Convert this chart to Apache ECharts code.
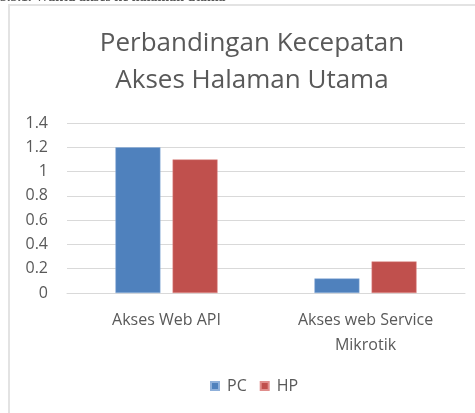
<!DOCTYPE html>
<html>
<head>
<meta charset="utf-8">
<script src="https://cdn.jsdelivr.net/npm/echarts@6/dist/echarts.min.js"></script>
<style>
  html, body { margin: 0; padding: 0; background: #fff; }
  #main { width: 475px; height: 413px; }
</style>
</head>
<body>
<div id="main"></div>
<script>
// data
var categories = ["Akses Web API", "Akses web Service\nMikrotik"];
var pcValues = [1.2, 0.12];
var hpValues = [1.1, 0.26];
var seriesNames = ["PC", "HP"];

var myChart = echarts.init(document.getElementById("main"));
var font = "'Open Sans', 'Noto Sans', sans-serif";
var option = {
  animation: false,
  backgroundColor: "#fff",
  textStyle: { fontFamily: font },
  title: {
    text: "Perbandingan Kecepatan\nAkses Halaman Utama",
    left: 247,
    top: 20,
    textAlign: "center",
    textStyle: {
      color: "#595959",
      fontSize: 26,
      fontWeight: "normal",
      lineHeight: 37,
      fontFamily: font
    }
  },
  graphic: [
    {
      // frame of the chart box
      type: "rect",
      shape: { x: 9, y: 5, width: 480, height: 420 },
      style: { fill: "none", stroke: "#e3e3e3", lineWidth: 2 }
    },
    {
      // heading of the document, cut at the top
      type: "text",
      x: 0,
      y: -10,
      style: { text: "3.3.1. Waktu akses ke halaman utama", fill: "#555", font: "bold 14px 'Liberation Serif', serif" }
    }
  ],
  legend: {
    data: seriesNames,
    bottom: 14,
    left: 205,
    itemWidth: 8,
    itemHeight: 8,
    itemGap: 13,
    icon: "rect",
    textStyle: { color: "#595959", fontSize: 16, fontFamily: font, padding: [0, 0, 0, 3] }
  },
  grid: { left: 67, right: 10, top: 123, bottom: 120 },
  xAxis: {
    type: "category",
    data: categories,
    axisLine: { lineStyle: { color: "#d9d9d9", width: 1 } },
    axisTick: { show: false },
    axisLabel: { color: "#595959", fontSize: 16, lineHeight: 25, margin: 15, fontFamily: font }
  },
  yAxis: {
    type: "value",
    min: 0,
    max: 1.4,
    interval: 0.2,
    axisLine: { show: false },
    axisTick: { show: false },
    splitLine: { lineStyle: { color: "#d9d9d9", width: 1 } },
    axisLabel: {
      color: "#595959",
      fontSize: 16,
      margin: 19,
      fontFamily: font,
      formatter: function(v) { return String(Math.round(v * 10) / 10); }
    }
  },
  series: [
    {
      name: seriesNames[0],
      type: "bar",
      data: pcValues,
      barWidth: 45,
      barGap: "27%",
      itemStyle: { color: "#4f81bd", borderColor: "#8fb0da", borderWidth: 0.5 }
    },
    {
      name: seriesNames[1],
      type: "bar",
      data: hpValues,
      barWidth: 45,
      itemStyle: { color: "#c0504d", borderColor: "#e08e8c", borderWidth: 0.5 }
    }
  ]
};
myChart.setOption(option);
</script>
</body>
</html>
